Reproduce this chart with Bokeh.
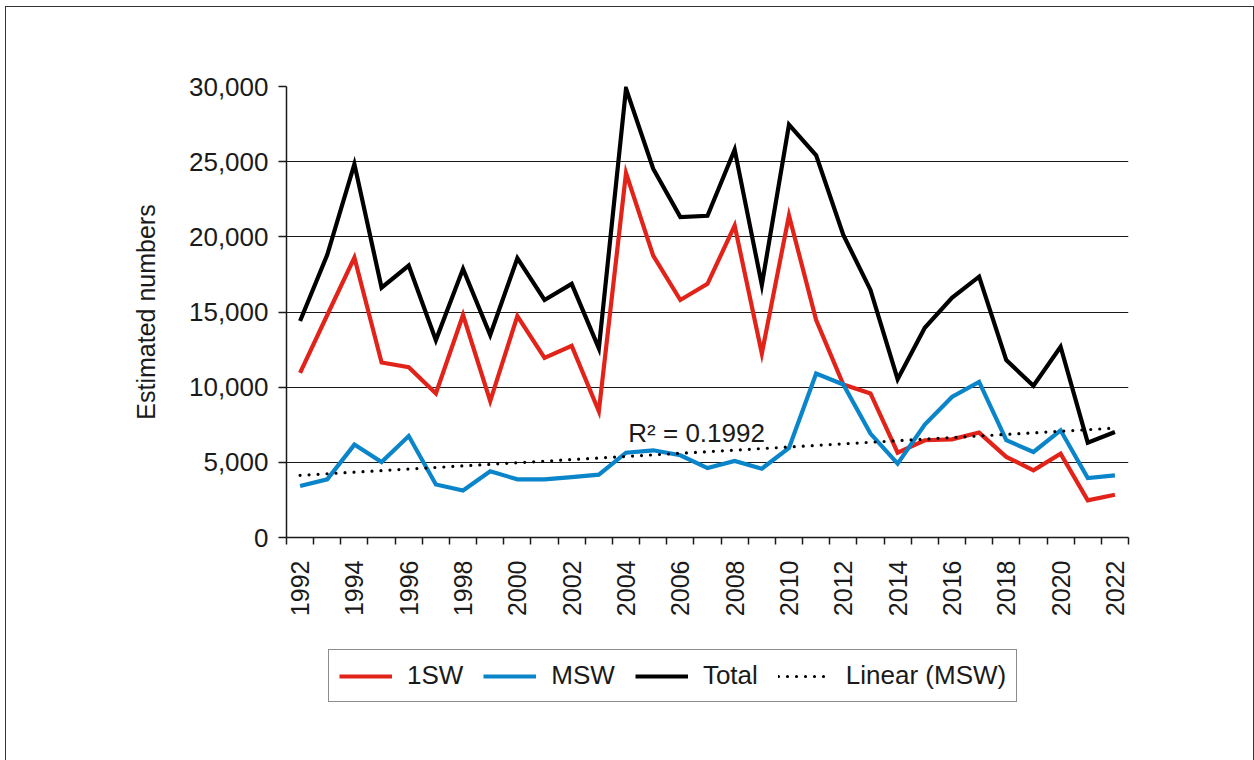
import numpy as np
from math import pi
from bokeh.plotting import figure
from bokeh.layouts import column
from bokeh.models import (Range1d, FixedTicker, NumeralTickFormatter, Legend,
                          LegendItem, Label)
from bokeh.embed import file_html
from bokeh.resources import INLINE

years = list(range(1992, 2023))
one_sw = [10950, 14800, 18620, 11640, 11330, 9580, 14800, 9070, 14730, 11950, 12750,
          8400, 24240, 18750, 15800, 16870, 20750, 12240, 21420, 14470, 10180, 9580,
          5640, 6470, 6530, 6980, 5360, 4470, 5580, 2470, 2840]
msw = [3420, 3870, 6180, 5020, 6750, 3530, 3130, 4400, 3870, 3870, 4020,
       4180, 5640, 5800, 5470, 4620, 5090, 4580, 5960, 10910, 10180, 6910,
       4910, 7510, 9350, 10350, 6470, 5690, 7130, 3960, 4130]
total = [14400, 18800, 24840, 16620, 18090, 13130, 17870, 13470, 18580, 15800, 16870,
         12580, 29860, 24530, 21310, 21400, 25800, 16800, 27460, 25420, 20130, 16470,
         10530, 13950, 15950, 17350, 11800, 10090, 12690, 6310, 7020]
label_years = list(range(1992, 2023, 2))
y_ticks = [0, 5000, 10000, 15000, 20000, 25000, 30000]
series_names = ["1SW", "MSW", "Total", "Linear (MSW)"]
r2_text = "R\u00b2 = 0.1992"

# linear trend of MSW (least squares, as the spreadsheet's trendline)
slope, intercept = np.polyfit(years, msw, 1)
trend = [slope * y + intercept for y in years]
series = [one_sw, msw, total, trend]

FONT = "Liberation Sans"
TXT = "#1a1a1a"
RED = "#E2231A"
BLUE = "#0A85C9"
styles = [dict(line_color=RED, line_width=4.2),
          dict(line_color=BLUE, line_width=4.2),
          dict(line_color="black", line_width=4.2),
          dict(line_color="black", line_width=3.2, line_dash="0 9", line_cap="round")]

W = 1247
p = figure(width=W, height=620, output_backend="svg", toolbar_location=None,
           x_range=Range1d(1991.5, 2022.5), y_range=Range1d(0, 30000),
           min_border_left=280, min_border_right=125, min_border_top=79,
           min_border_bottom=90)
p.outline_line_color = None
p.background_fill_color = "white"
p.border_fill_color = "white"

# grid
p.xgrid.visible = False
p.ygrid.grid_line_color = "#1a1a1a"
p.ygrid.grid_line_width = 1.2
p.ygrid.ticker = FixedTicker(ticks=y_ticks)

# y axis
ya = p.yaxis[0]
ya.ticker = FixedTicker(ticks=y_ticks)
ya.formatter = NumeralTickFormatter(format="0,0")
ya.axis_line_color = "#1a1a1a"
ya.axis_line_width = 1.5
ya.major_tick_line_color = "#1a1a1a"
ya.major_tick_line_width = 1.5
ya.major_tick_out = 8
ya.major_tick_in = 0
ya.minor_tick_line_color = None
ya.major_label_text_font = FONT
ya.major_label_text_font_size = "26px"
ya.major_label_text_color = TXT
ya.major_label_standoff = 10
ya.axis_label = "Estimated numbers"
ya.axis_label_text_font = FONT
ya.axis_label_text_font_size = "25px"
ya.axis_label_text_font_style = "normal"
ya.axis_label_text_color = TXT
ya.axis_label_standoff = 26

# x axis
xa = p.xaxis[0]
xa.ticker = FixedTicker(ticks=label_years,
                        minor_ticks=[y - 0.5 for y in years] + [years[-1] + 0.5])
xa.axis_line_color = "#1a1a1a"
xa.axis_line_width = 1.5
xa.major_tick_out = 0
xa.major_tick_in = 0
xa.minor_tick_line_color = "#1a1a1a"
xa.minor_tick_line_width = 1.5
xa.minor_tick_out = 7
xa.minor_tick_in = 0
xa.major_label_orientation = pi / 2
xa.major_label_text_font = FONT
xa.major_label_text_font_size = "25px"
xa.major_label_text_color = TXT
xa.major_label_standoff = 16

# series
for data, st in zip(series, styles):
    p.line(years, data, line_join="miter", **st)

p.add_layout(Label(x=2006.6, y=6950, text=r2_text, text_align="center",
                   text_baseline="alphabetic", text_font=FONT,
                   text_font_size="26px", text_color=TXT))

# legend panel below the chart (its series lie outside this panel's ranges,
# so only the legend shows)
p2 = figure(width=W, height=140, output_backend="svg", toolbar_location=None,
            x_range=Range1d(0, 1), y_range=Range1d(0, 1),
            min_border_left=0, min_border_right=0, min_border_top=0,
            min_border_bottom=0)
p2.axis.visible = False
p2.grid.visible = False
p2.outline_line_color = None
p2.background_fill_color = "white"
p2.border_fill_color = "white"
items = []
for name, data, st in zip(series_names, series, styles):
    r = p2.line(years, data, **st)
    items.append(LegendItem(label=name, renderers=[r]))
legend = Legend(items=items, orientation="horizontal", location=(42, 65),
                label_text_font=FONT, label_text_font_size="26px",
                label_text_color=TXT, glyph_width=53, glyph_height=20,
                label_standoff=15, spacing=20, padding=10, margin=0,
                label_height=29,
                border_line_color="#1a1a1a", border_line_width=1.5,
                background_fill_color="white", background_fill_alpha=1)
p2.add_layout(legend, "center")

layout = column(p, p2, spacing=0)
layout.margin = (6, 0, 0, 5)
layout.styles = {"border": "1.5px solid #333333"}

open("out.html", "w").write(file_html(layout, INLINE))
